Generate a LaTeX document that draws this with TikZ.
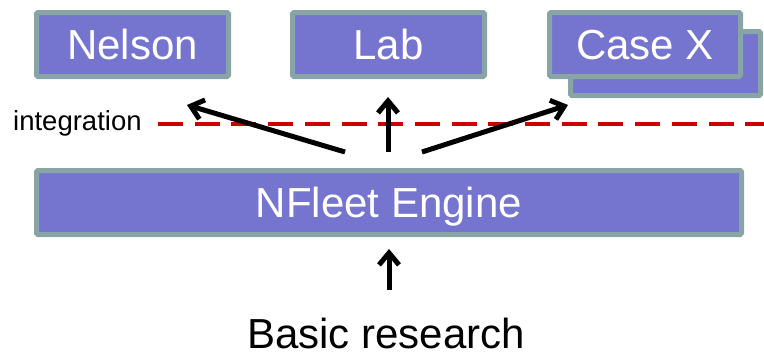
\documentclass[tikz,border=0pt]{standalone}
\usepackage{fontspec}
\setmainfont{Liberation Sans}
\usetikzlibrary{arrows.meta}

\definecolor{boxfill}{RGB}{117,117,208}
\definecolor{boxline}{RGB}{136,164,164}
\definecolor{cutred}{RGB}{204,0,0}

\begin{document}
\begin{tikzpicture}[%
    x=1pt, y=-1pt,
    block/.style={
        draw=boxline,
        fill=boxfill,
        line width=5pt,
        rounded corners=1.5pt,
        text=white,
        font=\fontsize{42}{48}\selectfont,
        text height=30pt,
        text depth=0pt,
        inner sep=0pt,
        minimum height=64pt
    },
    push/.style={
        -{Straight Barb[length=12pt,width=20pt]},
        line width=5pt
    }
]
    % Fix the page to the size of the reference.
    \useasboundingbox (0,0) rectangle (764,356);

    % Application boxes on top.
    \node[block, minimum width=192pt] (nelson) at (132.5,44.5) {Nelson};
    \node[block, minimum width=192pt] (lab)    at (388.5,44.5) {Lab};

    % Case X sits on a second box behind it.
    \node[block, minimum width=190pt] (caseback) at (665.5,63.5) {};
    \node[block, minimum width=191pt] (casex)    at (645,44.5)   {Case X};

    % The engine and what feeds it.
    \node[block, minimum width=705pt] (engine) at (389,202.5) {NFleet Engine};
    \node[font=\fontsize{42}{48}\selectfont, text height=30pt, text depth=0pt,
          inner sep=0pt, anchor=base] (basic) at (386,348) {Basic research};

    % Integration border.
    \node[font=\fontsize{27.5}{32}\selectfont, inner sep=0pt, anchor=base west]
        (integration) at (13,130) {integration};
    \coordinate (cutstart) at (158,124);
    \coordinate (cutend)   at (764,124);
    \draw[cutred, line width=3.5pt, dash pattern=on 25pt off 11.7pt]
        (cutstart) -- (cutend);

    % Ends of the arrows out of the engine.
    \coordinate (outnelson) at (345,152);
    \coordinate (outlab)    at (388,152);
    \coordinate (outcase)   at (422,152);
    \coordinate (innelson)  at (187,105);
    \coordinate (inlab)     at (388,97);
    \coordinate (incase)    at (568,105);

    \draw[push] (outnelson) -- (innelson);
    \draw[push] (outlab)    -- (inlab);
    \draw[push] (outcase)   -- (incase);

    % Basic research pushes the engine.
    \draw[push, shorten <=28pt, shorten >=12pt]
        (engine.south |- basic.north) -- (engine.south);
\end{tikzpicture}
\end{document}
